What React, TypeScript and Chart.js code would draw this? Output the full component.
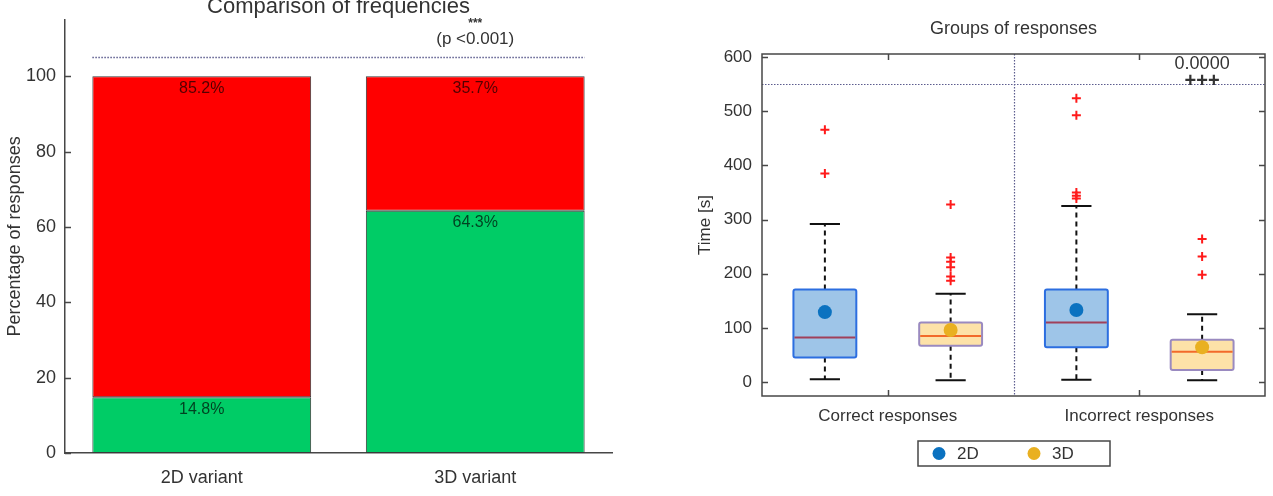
import { useEffect, useRef } from 'react';
import { Chart, registerables } from 'chart.js';

Chart.register(...registerables);

const FONT = '"Liberation Sans", Arial, Helvetica, sans-serif';
const TEXT = '#333333';
const AXIS = '#474747';
const SIG_LINE = '#5c5c8e';

// Left panel: share of correct / incorrect answers per variant (%)
const variants = ['2D variant', '3D variant'];
const correctShare = [14.8, 64.3];
const incorrectShare = [85.2, 35.7];
const shareTicks = [0, 20, 40, 60, 80, 100];
const shareMax = 115;
const shareSigLevel = 105;
const shareSigStars = '***';
const shareSigText = '(p <0.001)';

// Right panel: response times per group and variant (s)
const groupLabels = ['Correct responses', 'Incorrect responses'];
const groupTickPositions = [1.5, 3.5];
const groupSplit = 2.5;
const seriesNames = ['2D', '3D'];
const boxSeries = ['2D', '3D', '2D', '3D'];
const boxPositions = [1, 2, 3, 4];
const boxQ1 = [45, 67, 64, 22];
const boxMedian = [82, 85, 110, 56];
const boxQ3 = [171, 110, 171, 78];
const whiskerLow = [5, 3, 4, 3];
const whiskerHigh = [292, 163, 325, 125];
const boxMean = [129, 96, 133, 64];
const boxOutliers = [
  [466, 385],
  [328, 230, 222, 212, 195, 187],
  [524, 493, 350, 344, 339],
  [264, 232, 198],
];
const timeTicks = [0, 100, 200, 300, 400, 500, 600];
const timeMin = -26;
const timeMax = 606;
const timeSigLevel = 550;
const timePValue = '0.0000';
const timeSigMark = '+++';

const seriesStyle: Record<string, { fill: string; edge: string; median: string; mean: string }> = {
  '2D': { fill: '#9ec5e8', edge: '#2c6ee0', median: '#a0405a', mean: '#0b72c0' },
  '3D': { fill: '#fde2a8', edge: '#9a8ac0', median: '#f26a2a', mean: '#e9b021' },
};

const font = (size: number, weight = 'normal') => `${weight} ${size}px ${FONT}`;

const sharePlugin = {
  id: 'shareDecor',
  afterDraw(chart: any) {
    const { ctx, chartArea } = chart;
    const y = chart.scales.y;
    ctx.save();
    // inward tick marks on the value axis
    ctx.strokeStyle = AXIS;
    ctx.lineWidth = 1.5;
    shareTicks.forEach((v) => {
      const py = Math.round(y.getPixelForValue(v)) + 0.5;
      ctx.beginPath();
      ctx.moveTo(chartArea.left, py);
      ctx.lineTo(chartArea.left + 6, py);
      ctx.stroke();
    });

    // percentage labels at the top of each segment
    ctx.font = font(16);
    ctx.fillStyle = 'rgba(0,0,0,0.68)';
    ctx.textAlign = 'center';
    ctx.textBaseline = 'middle';
    chart.data.datasets.forEach((ds: any, di: number) => {
      chart.getDatasetMeta(di).data.forEach((el: any, i: number) => {
        ctx.fillText(`${ds.data[i].toFixed(1)}%`, el.x, el.y + 12);
      });
    });

    // significance bracket
    const bars = chart.getDatasetMeta(1).data;
    const first = bars[0];
    const last = bars[bars.length - 1];
    const sy = Math.round(y.getPixelForValue(shareSigLevel)) + 0.5;
    ctx.strokeStyle = SIG_LINE;
    ctx.lineWidth = 1.5;
    ctx.setLineDash([1.5, 1.5]);
    ctx.beginPath();
    ctx.moveTo(first.x - first.width / 2, sy);
    ctx.lineTo(last.x + last.width / 2, sy);
    ctx.stroke();
    ctx.setLineDash([]);

    ctx.fillStyle = TEXT;
    ctx.font = font(12, 'bold');
    ctx.fillText(shareSigStars, last.x, 24);
    ctx.font = font(17);
    ctx.fillText(shareSigText, last.x, 39);

    // title
    ctx.font = font(22);
    ctx.textBaseline = 'alphabetic';
    ctx.fillText('Comparison of frequencies', (chartArea.left + chartArea.right) / 2, 13);
    ctx.restore();
  },
};

function ShareChart() {
  const ref = useRef<HTMLCanvasElement>(null);
  useEffect(() => {
    const common = {
      borderColor: '#3a3a3a',
      borderWidth: 1,
      borderSkipped: false,
      categoryPercentage: 1,
      barPercentage: 0.8,
    };
    const chart = new Chart(ref.current as HTMLCanvasElement, {
      type: 'bar',
      data: {
        labels: variants,
        datasets: [
          { label: 'Correct', data: correctShare, backgroundColor: '#00cc66', ...common },
          { label: 'Incorrect', data: incorrectShare, backgroundColor: '#ff0000', ...common },
        ],
      },
      options: {
        responsive: false,
        animation: false,
        layout: { padding: { top: 18, right: 28, left: 0, bottom: 0 } },
        plugins: { legend: { display: false }, tooltip: { enabled: false }, title: { display: false } },
        scales: {
          x: {
            stacked: true,
            grid: { display: false, drawTicks: false },
            border: { color: AXIS, width: 1.5 },
            ticks: { color: TEXT, font: { family: FONT, size: 18 }, padding: 14 },
            afterFit: (s: any) => { s.height = 43; },
          },
          y: {
            stacked: true,
            min: 0,
            max: shareMax,
            afterBuildTicks: (s: any) => { s.ticks = shareTicks.map((v) => ({ value: v })); },
            grid: { display: false, drawTicks: false },
            border: { color: AXIS, width: 1.5 },
            ticks: { color: TEXT, font: { family: FONT, size: 18 }, padding: 9 },
            title: {
              display: true,
              text: 'Percentage of responses',
              color: TEXT,
              font: { family: FONT, size: 18 },
              padding: { top: 4, bottom: 0 },
            },
            afterFit: (s: any) => { s.width = 65; },
          },
        },
      },
      plugins: [sharePlugin],
    } as any);
    return () => chart.destroy();
  }, []);
  return <canvas ref={ref} width={640} height={496} style={{ position: 'absolute', left: 0, top: 0 }} />;
}

const timeDecor = {
  id: 'timeDecor',
  beforeDatasetsDraw(chart: any) {
    const { ctx, chartArea } = chart;
    const x = chart.scales.x;
    const y = chart.scales.y;
    ctx.save();

    // dotted guide lines
    ctx.strokeStyle = SIG_LINE;
    ctx.lineWidth = 1.2;
    ctx.setLineDash([1.5, 1.5]);
    const gx = Math.round(x.getPixelForValue(groupSplit)) + 0.5;
    ctx.beginPath();
    ctx.moveTo(gx, chartArea.top);
    ctx.lineTo(gx, chartArea.bottom);
    const gy = Math.round(y.getPixelForValue(timeSigLevel)) + 0.5;
    ctx.moveTo(chartArea.left, gy);
    ctx.lineTo(chartArea.right, gy);
    ctx.stroke();

    // box plots
    boxPositions.forEach((pos, i) => {
      const st = seriesStyle[boxSeries[i]];
      const xc = x.getPixelForValue(pos);
      const half = x.getPixelForValue(pos + 0.25) - xc;
      const cap = x.getPixelForValue(pos + 0.12) - xc;
      const yq1 = y.getPixelForValue(boxQ1[i]);
      const yq3 = y.getPixelForValue(boxQ3[i]);
      const ymed = y.getPixelForValue(boxMedian[i]);
      const ylo = y.getPixelForValue(whiskerLow[i]);
      const yhi = y.getPixelForValue(whiskerHigh[i]);

      ctx.strokeStyle = '#111111';
      ctx.lineWidth = 2;
      ctx.setLineDash([5, 4]);
      ctx.beginPath();
      ctx.moveTo(xc, yq3);
      ctx.lineTo(xc, yhi);
      ctx.moveTo(xc, yq1);
      ctx.lineTo(xc, ylo);
      ctx.stroke();
      ctx.setLineDash([]);
      ctx.beginPath();
      ctx.moveTo(xc - cap, yhi);
      ctx.lineTo(xc + cap, yhi);
      ctx.moveTo(xc - cap, ylo);
      ctx.lineTo(xc + cap, ylo);
      ctx.stroke();

      ctx.fillStyle = st.fill;
      ctx.strokeStyle = st.edge;
      ctx.lineWidth = 2;
      ctx.beginPath();
      ctx.roundRect(xc - half, yq3, half * 2, yq1 - yq3, 2);
      ctx.fill();
      ctx.stroke();

      ctx.strokeStyle = st.median;
      ctx.beginPath();
      ctx.moveTo(xc - half + 1, ymed);
      ctx.lineTo(xc + half - 1, ymed);
      ctx.stroke();
    });
    ctx.restore();
  },
  afterDraw(chart: any) {
    const { ctx, chartArea } = chart;
    const x = chart.scales.x;
    const y = chart.scales.y;
    const { left, right, top, bottom } = chartArea;
    ctx.save();

    // axes frame with inward ticks
    ctx.strokeStyle = AXIS;
    ctx.lineWidth = 1.5;
    ctx.strokeRect(left, top, right - left, bottom - top);
    ctx.beginPath();
    timeTicks.forEach((v) => {
      const py = Math.round(y.getPixelForValue(v)) + 0.5;
      ctx.moveTo(left, py);
      ctx.lineTo(left + 6, py);
      ctx.moveTo(right, py);
      ctx.lineTo(right - 6, py);
    });
    groupTickPositions.forEach((v) => {
      const px = Math.round(x.getPixelForValue(v)) + 0.5;
      ctx.moveTo(px, bottom);
      ctx.lineTo(px, bottom - 6);
      ctx.moveTo(px, top);
      ctx.lineTo(px, top + 6);
    });
    ctx.stroke();

    // significance annotation for the incorrect-responses group
    const px = x.getPixelForValue(boxPositions[3]);
    ctx.fillStyle = TEXT;
    ctx.textAlign = 'center';
    ctx.textBaseline = 'middle';
    ctx.font = font(18);
    ctx.fillText(timePValue, px, 64);
    ctx.font = font(20, 'bold');
    ctx.fillText(timeSigMark, px, 81);

    // title
    ctx.font = font(18);
    ctx.fillText('Groups of responses', (left + right) / 2, 29);

    // legend
    const lx = 278;
    const ly = 441;
    const lw = 192;
    const lh = 25;
    ctx.fillStyle = '#ffffff';
    ctx.fillRect(lx, ly, lw, lh);
    ctx.strokeStyle = AXIS;
    ctx.lineWidth = 1.5;
    ctx.strokeRect(lx, ly, lw, lh);
    const slots = [21, 116];
    seriesNames.forEach((name, i) => {
      const cx = lx + slots[i];
      ctx.fillStyle = seriesStyle[name].mean;
      ctx.beginPath();
      ctx.arc(cx, ly + lh / 2, 6.5, 0, Math.PI * 2);
      ctx.fill();
      ctx.fillStyle = TEXT;
      ctx.textAlign = 'left';
      ctx.font = font(17);
      ctx.fillText(name, cx + 18, ly + lh / 2 + 1);
    });
    ctx.restore();
  },
};

function TimeChart() {
  const ref = useRef<HTMLCanvasElement>(null);
  useEffect(() => {
    const meanPoints = (name: string) =>
      boxPositions
        .map((pos, i) => ({ x: pos, y: boxMean[i], s: boxSeries[i] }))
        .filter((p) => p.s === name)
        .map(({ x, y }) => ({ x, y }));
    const outlierPoints = boxPositions.flatMap((pos, i) => boxOutliers[i].map((v) => ({ x: pos, y: v })));
    const chart = new Chart(ref.current as HTMLCanvasElement, {
      type: 'scatter',
      data: {
        datasets: [
          {
            label: 'Outliers',
            data: outlierPoints,
            pointStyle: 'cross',
            pointRadius: 4.5,
            borderColor: '#ff1a1a',
            borderWidth: 2,
          },
          ...seriesNames.map((name) => ({
            label: name,
            data: meanPoints(name),
            pointStyle: 'circle',
            pointRadius: 7,
            backgroundColor: seriesStyle[name].mean,
            borderWidth: 0,
          })),
        ],
      },
      options: {
        responsive: false,
        animation: false,
        layout: { padding: { top: 54, right: 8, left: 0, bottom: 0 } },
        plugins: { legend: { display: false }, tooltip: { enabled: false }, title: { display: false } },
        scales: {
          x: {
            type: 'linear',
            min: 0.5,
            max: 4.5,
            afterBuildTicks: (s: any) => { s.ticks = groupTickPositions.map((v) => ({ value: v })); },
            grid: { display: false, drawTicks: false },
            border: { display: false },
            ticks: {
              color: TEXT,
              font: { family: FONT, size: 17 },
              padding: 10,
              autoSkip: false,
              maxRotation: 0,
              callback: (_v: any, i: number) => groupLabels[i],
            },
            afterFit: (s: any) => { s.height = 100; },
          },
          y: {
            min: timeMin,
            max: timeMax,
            afterBuildTicks: (s: any) => { s.ticks = timeTicks.map((v) => ({ value: v })); },
            grid: { display: false, drawTicks: false },
            border: { display: false },
            ticks: { color: TEXT, font: { family: FONT, size: 17 }, padding: 10 },
            title: {
              display: true,
              text: 'Time [s]',
              color: TEXT,
              font: { family: FONT, size: 17 },
              padding: { top: 55, bottom: 0 },
            },
            afterFit: (s: any) => { s.width = 122; },
          },
        },
      },
      plugins: [timeDecor],
    } as any);
    return () => chart.destroy();
  }, []);
  return <canvas ref={ref} width={633} height={496} style={{ position: 'absolute', left: 640, top: 0 }} />;
}

export default function App() {
  return (
    <div style={{ position: 'fixed', left: 0, top: 0, width: 1273, height: 496, background: '#ffffff', overflow: 'hidden' }}>
      <ShareChart />
      <TimeChart />
    </div>
  );
}
